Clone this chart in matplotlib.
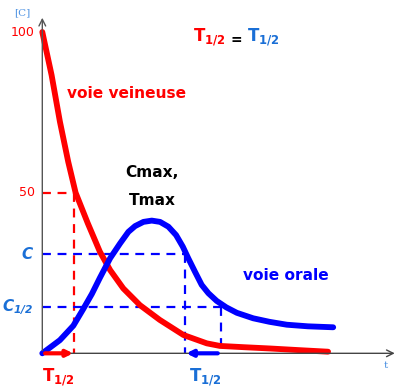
import matplotlib
matplotlib.use("Agg")
import matplotlib.pyplot as plt

# --- data ---
iv_t = [0, 0.29, 0.55, 0.81, 1.04, 1.42, 1.80, 2.12, 2.53, 3.05, 3.67, 4.41, 5.14, 5.55,
        6.30, 7.12, 8.00, 8.93]
iv_c = [100, 86.6, 72.1, 59.6, 50, 40.5, 31.6, 25.9, 20.2, 15.0, 10.4, 5.7, 3.1, 2.3,
        1.9, 1.5, 1.0, 0.5]

oral_t = [0, 0.55, 0.97, 1.28, 1.55, 1.80, 2.12, 2.43, 2.69, 2.90, 3.16, 3.42, 3.68, 3.94,
          4.18, 4.39, 4.56, 4.77, 4.98, 5.19, 5.45, 5.75, 6.08, 6.59, 7.10, 7.64, 8.30, 9.09]
oral_c = [0, 4.1, 8.6, 13.8, 18.5, 23.5, 29.6, 34.2, 37.8, 39.6, 40.9, 41.3, 40.9, 39.4,
          36.8, 33.2, 29.6, 25.4, 21.3, 18.7, 16.3, 14.3, 12.6, 10.9, 9.8, 8.9, 8.4, 8.1]

iv_half_t = 1.0
iv_half_c = 50
oral_C = 30.9
oral_C_half = 14.5
oral_t1 = 4.46
oral_t2 = 5.57

RED = "#ff0000"
BLUE = "#0000ff"
LBLUE = "#1a6fd6"
FONT = "DejaVu Sans"
W = "semibold"

fig = plt.figure(figsize=(4.02, 3.91), dpi=100)
ax = fig.add_axes([0, 0, 1, 1])
ax.set_xlim(-1.322, 11.24)
ax.set_ylim(-11.73, 109.96)
ax.axis("off")

# axes with arrows
ax.annotate("", xy=(0, 105.3), xytext=(0, 0),
            arrowprops=dict(arrowstyle="->", color="#555555", lw=1.0, mutation_scale=12))
ax.annotate("", xy=(11.1, 0), xytext=(0, 0),
            arrowprops=dict(arrowstyle="->", color="#444444", lw=1.0, mutation_scale=12))

# dashed guides
dash = dict(lw=1.6, dashes=(4, 3))
ax.plot([0, iv_half_t], [iv_half_c, iv_half_c], color=RED, **dash)
ax.plot([iv_half_t, iv_half_t], [iv_half_c, 0], color=RED, **dash)
ax.plot([0, oral_t1], [oral_C, oral_C], color=BLUE, **dash)
ax.plot([oral_t1, oral_t1], [oral_C, 0], color=BLUE, **dash)
ax.plot([0, oral_t2], [oral_C_half, oral_C_half], color=BLUE, **dash)
ax.plot([oral_t2, oral_t2], [oral_C_half, 0], color=BLUE, **dash)

# curves
ax.plot(iv_t, iv_c, color=RED, lw=4.2, solid_capstyle="round", solid_joinstyle="round")
ax.plot(oral_t, oral_c, color=BLUE, lw=4.2, solid_capstyle="round", solid_joinstyle="round")

# half-life arrows on the time axis
ax.annotate("", xy=(iv_half_t + 0.05, 0), xytext=(0, 0),
            arrowprops=dict(arrowstyle="-|>", color=RED, lw=3, mutation_scale=9))
ax.annotate("", xy=(oral_t1 - 0.05, 0), xytext=(oral_t2, 0),
            arrowprops=dict(arrowstyle="-|>", color=BLUE, lw=3, mutation_scale=9))

# texts
ax.text(-0.63, 105.9, "[C]", color="#4a90e2", fontsize=7.5, family="DejaVu Serif",
        ha="center", va="center")
ax.text(10.74, -3.9, "t", color="#4a90e2", fontsize=7.5, family="DejaVu Serif",
        ha="center", va="center")
ax.text(-0.23, 100, "100", color=RED, fontsize=9, family=FONT, ha="right", va="center")
ax.text(-0.23, 50, "50", color=RED, fontsize=9, family=FONT, ha="right", va="center")
ax.text(-0.29, oral_C, "C", color=LBLUE, fontsize=11, family=FONT, style="italic",
        weight=W, ha="right", va="center")
ax.text(-0.29, oral_C_half, r"C$_{\mathregular{1/2}}$", color=LBLUE, fontsize=11, family=FONT,
        style="italic", weight=W, ha="right", va="center")

ax.text(0.49, -7.4, r"T$_{\mathregular{1/2}}$", color=RED, fontsize=12, family=FONT,
        weight=W, ha="center", va="center")
ax.text(5.08, -7.4, r"T$_{\mathregular{1/2}}$", color=LBLUE, fontsize=12, family=FONT,
        weight=W, ha="center", va="center")

ax.text(4.71, 98.5, r"T$_{\mathregular{1/2}}$", color=RED, fontsize=12, family=FONT,
        weight=W, ha="left", va="center")
ax.text(6.05, 97.5, "=", color="black", fontsize=10, family=FONT, weight="bold",
        ha="center", va="center")
ax.text(6.4, 98.5, r"T$_{\mathregular{1/2}}$", color=LBLUE, fontsize=12, family=FONT,
        weight=W, ha="left", va="center")

ax.text(2.63, 81.0, "voie veineuse", color=RED, fontsize=11.1, family=FONT, weight=W,
        ha="center", va="center")
ax.text(3.43, 56.4, "Cmax,", color="black", fontsize=11.1, family=FONT, weight=W,
        ha="center", va="center")
ax.text(3.43, 47.7, "Tmax", color="black", fontsize=11.1, family=FONT, weight=W,
        ha="center", va="center")
ax.text(7.62, 24.1, "voie orale", color=BLUE, fontsize=11.1, family=FONT, weight=W,
        ha="center", va="center")

fig.savefig("out.png", dpi=100)
